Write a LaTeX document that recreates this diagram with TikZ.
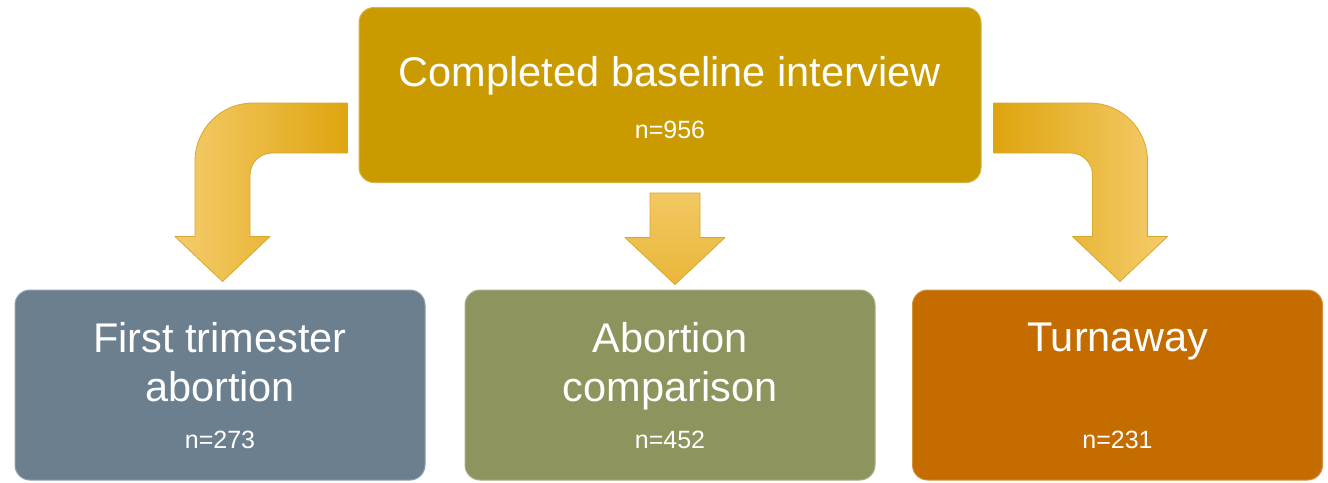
\documentclass[tikz,border=0pt]{standalone}
\usepackage{fontspec}
\setmainfont{Liberation Sans}

\definecolor{baselinegold}{RGB}{201,155,0}
\definecolor{firstslate}{RGB}{107,127,143}
\definecolor{compolive}{RGB}{142,148,94}
\definecolor{turnorange}{RGB}{196,108,0}
\definecolor{arrowdark}{RGB}{222,165,15}
\definecolor{arrowlight}{RGB}{245,204,108}
\definecolor{arrowline}{RGB}{216,168,45}

\tikzset{
  box/.style={rounded corners=15, minimum width=410, minimum height=190,
    inner sep=0, line width=1, fill=#1, draw=#1!75!white},
  title/.style={text=white, font=\fontsize{41.5}{49}\selectfont,
    align=center, inner sep=0, anchor=north},
  count/.style={text=white, font=\fontsize{25}{30}\selectfont, inner sep=0},
  blockarrow/.style={draw=arrowline, line width=0.8, line join=round}
}

\begin{document}
\begin{tikzpicture}[x=1pt, y=-1pt]
  \useasboundingbox[fill=white] (0,0) rectangle (1328,482);

  % Boxes
  \node[box=baselinegold, minimum width=622, minimum height=175] (baseline) at (670,95) {};
  \node[box=firstslate] (first) at (220,385) {};
  \node[box=compolive] (comparison) at (670,385) {};
  \node[box=turnorange] (turnaway) at (1117.5,385) {};

  % Texts
  \node[title] (baseline-text) at ([shift={(0,49)}]baseline.north) {Completed baseline interview};
  \node[count] (baseline-n) at ([shift={(0,123)}]baseline.north) {n=956};
  \node[title] (first-text) at ([shift={(0,33)}]first.north) {First trimester\\abortion};
  \node[count] (first-n) at ([shift={(0,150)}]first.north) {n=273};
  \node[title] (comparison-text) at ([shift={(0,33)}]comparison.north) {Abortion\\comparison};
  \node[count] (comparison-n) at ([shift={(0,150)}]comparison.north) {n=452};
  \node[title] (turnaway-text) at ([shift={(0,33)}]turnaway.north) {Turnaway};
  \node[count] (turnaway-n) at ([shift={(0,150)}]turnaway.north) {n=231};

  % Arrow ends
  \coordinate (tailL) at ([shift={(-11,33)}]baseline.west);
  \coordinate (tipL) at ([shift={(2.5,-8)}]first.north);
  \coordinate (bendL) at (tipL |- tailL);
  \coordinate (tailM) at ([shift={(5,10)}]baseline.south);
  \coordinate (tipM) at ([shift={(5,-5)}]comparison.north);
  \coordinate (tailR) at ([shift={(12,33)}]baseline.east);
  \coordinate (tipR) at ([shift={(2.5,-8)}]turnaway.north);
  \coordinate (bendR) at (tipR |- tailR);

  % Left bent arrow
  \path[blockarrow, left color=arrowlight, right color=arrowdark]
    ([shift={(0,-25)}]tailL) -- ([shift={(30.5,-25)}]bendL)
    .. controls ([shift={(-1.5,-25)}]bendL) and ([shift={(-27.5,1)}]bendL) .. ([shift={(-27.5,33)}]bendL)
    -- ([shift={(-27.5,-45)}]tipL) -- ([shift={(-47.5,-45)}]tipL)
    -- (tipL) -- ([shift={(47.5,-45)}]tipL) -- ([shift={(27.5,-45)}]tipL)
    -- ([shift={(27.5,47)}]bendL)
    .. controls ([shift={(27.5,34.9)}]bendL) and ([shift={(37.4,25)}]bendL) .. ([shift={(49.5,25)}]bendL)
    -- ([shift={(0,25)}]tailL) -- cycle;

  % Middle arrow
  \path[blockarrow, top color=arrowlight!90!arrowdark, bottom color=arrowdark!55!arrowlight]
    ([shift={(-25,0)}]tailM) -- ([shift={(25,0)}]tailM) -- ([shift={(25,-47)}]tipM)
    -- ([shift={(50,-47)}]tipM) -- (tipM) -- ([shift={(-50,-47)}]tipM)
    -- ([shift={(-25,-47)}]tipM) -- cycle;

  % Right bent arrow
  \path[blockarrow, left color=arrowdark, right color=arrowlight]
    ([shift={(0,-25)}]tailR) -- ([shift={(-30.5,-25)}]bendR)
    .. controls ([shift={(1.5,-25)}]bendR) and ([shift={(27.5,1)}]bendR) .. ([shift={(27.5,33)}]bendR)
    -- ([shift={(27.5,-45)}]tipR) -- ([shift={(47.5,-45)}]tipR)
    -- (tipR) -- ([shift={(-47.5,-45)}]tipR) -- ([shift={(-27.5,-45)}]tipR)
    -- ([shift={(-27.5,47)}]bendR)
    .. controls ([shift={(-27.5,34.9)}]bendR) and ([shift={(-37.4,25)}]bendR) .. ([shift={(-49.5,25)}]bendR)
    -- ([shift={(0,25)}]tailR) -- cycle;
\end{tikzpicture}
\end{document}
